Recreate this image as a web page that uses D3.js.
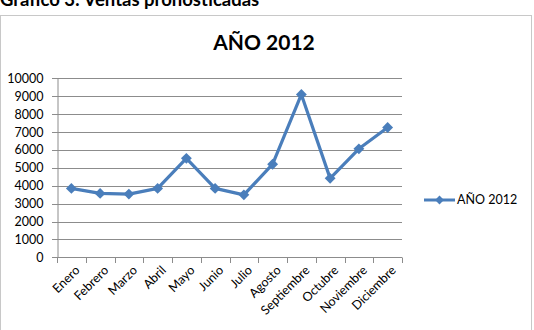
<!DOCTYPE html>
<html>
<head>
<meta charset="utf-8">
<script src="https://cdn.jsdelivr.net/npm/d3@7"></script>
<style>
  body { margin: 0; background: #fff; }
  svg { display: block; font-family: Lato, "Open Sans", sans-serif; }
</style>
</head>
<body>
<div class="container"></div>
<script>
// data
let meses = ["Enero", "Febrero", "Marzo", "Abril", "Mayo", "Junio", "Julio",
  "Agosto", "Septiembre", "Octubre", "Noviembre", "Diciembre"]
let ventas = [3850, 3570, 3530, 3850, 5530, 3850, 3490, 5200, 9100, 4410, 6060, 7250]
let yTicks = [0, 1000, 2000, 3000, 4000, 5000, 6000, 7000, 8000, 9000, 10000]
let serie = "AÑO 2012"

let width = 534
let height = 330
let blue = "#4a7ebb"

let svg = d3.select(".container")
  .append("svg")
  .attr("width", width)
  .attr("height", height)

// caption above the chart box, cut off by the crop in the original
svg.append("text")
  .attr("x", 0)
  .attr("y", 6)
  .text("Gráfico 3: Ventas pronosticadas")
  .attr("font-size", "18.5px")
  .attr("font-weight", "bold")
  .attr("fill", "#000")

// chart box
svg.append("rect")
  .attr("x", 0.5)
  .attr("y", 15.5)
  .attr("width", 531)
  .attr("height", 330)
  .attr("fill", "none")
  .attr("stroke", "#c8c8c8")

svg.append("text")
  .attr("x", 264)
  .attr("y", 50)
  .attr("text-anchor", "middle")
  .text(serie)
  .attr("font-size", "21px")
  .attr("font-weight", "bold")
  .attr("fill", "#000")

let x = d3.scaleBand()
  .domain(meses)
  .range([57, 402])

let y = d3.scaleLinear()
  .domain([0, 10000])
  .range([257.3, 78.3])

// gridlines
svg.selectAll(".grid")
  .data(yTicks)
  .enter()
  .append("line")
  .attr("class", "grid")
  .attr("x1", 57)
  .attr("x2", 402)
  .attr("y1", function (d) { return Math.round(y(d)) + 0.5 })
  .attr("y2", function (d) { return Math.round(y(d)) + 0.5 })
  .attr("stroke", "#8c8c8c")
  .attr("stroke-width", 1)

let yAxis = svg.append("g")
  .attr("transform", "translate(57.5,0)")
  .call(d3.axisLeft(y).tickValues(yTicks).tickSize(0).tickPadding(14).tickFormat(d3.format("d")))
yAxis.select(".domain").attr("stroke", "#8c8c8c")
yAxis.selectAll("text")
  .attr("font-size", "12.5px")
  .attr("font-family", "Lato, 'Open Sans', sans-serif")
  .attr("fill", "#000")
// little left tick marks
svg.selectAll(".ytick")
  .data(yTicks)
  .enter()
  .append("line")
  .attr("x1", 52)
  .attr("x2", 57)
  .attr("y1", function (d) { return Math.round(y(d)) + 0.5 })
  .attr("y2", function (d) { return Math.round(y(d)) + 0.5 })
  .attr("stroke", "#8c8c8c")

// x axis with ticks on band edges
let edges = meses.map(function (m) { return x(m) }).concat([x.range()[1]])
svg.selectAll(".xtick")
  .data(edges)
  .enter()
  .append("line")
  .attr("x1", function (d) { return Math.round(d) + 0.5 })
  .attr("x2", function (d) { return Math.round(d) + 0.5 })
  .attr("y1", 257.5)
  .attr("y2", 263)
  .attr("stroke", "#8c8c8c")

svg.selectAll(".xlabel")
  .data(meses)
  .enter()
  .append("text")
  .attr("class", "xlabel")
  .attr("transform", function (d) {
    return "translate(" + (x(d) + x.bandwidth() / 2 + 6) + ",268) rotate(-45)"
  })
  .attr("text-anchor", "end")
  .attr("dy", "0.35em")
  .text(function (d) { return d })
  .attr("font-size", "12.5px")
  .attr("fill", "#000")

// series line
let line = d3.line()
  .x(function (d, i) { return x(meses[i]) + x.bandwidth() / 2 })
  .y(function (d) { return y(d) })

svg.append("path")
  .datum(ventas)
  .attr("d", line)
  .attr("fill", "none")
  .attr("stroke", blue)
  .attr("stroke-width", 3.2)
  .attr("stroke-linejoin", "round")

let diamond = d3.symbol().type(d3.symbolDiamond2).size(75)
svg.selectAll(".pt")
  .data(ventas)
  .enter()
  .append("path")
  .attr("class", "pt")
  .attr("d", diamond)
  .attr("transform", function (d, i) {
    return "translate(" + (x(meses[i]) + x.bandwidth() / 2) + "," + y(d) + ")"
  })
  .attr("fill", blue)

// legend
let legend = svg.append("g").attr("transform", "translate(424,200)")
legend.append("line")
  .attr("x1", 0).attr("x2", 31)
  .attr("stroke", blue)
  .attr("stroke-width", 3)
legend.append("path")
  .attr("d", d3.symbol().type(d3.symbolDiamond2).size(50))
  .attr("transform", "translate(15.5,0)")
  .attr("fill", blue)
legend.append("text")
  .attr("x", 33)
  .attr("dy", "0.35em")
  .text(serie)
  .attr("font-size", "12.5px")
  .attr("fill", "#000")
</script>
</body>
</html>
